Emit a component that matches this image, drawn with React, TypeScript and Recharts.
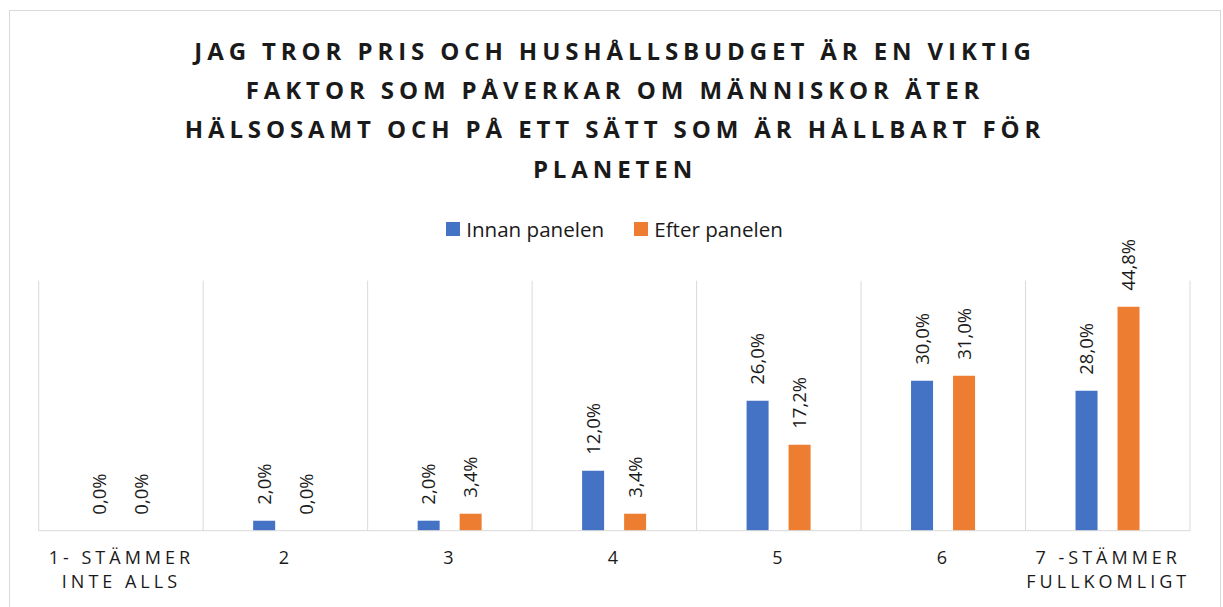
import React from 'react';
import { BarChart, Bar, XAxis, YAxis, CartesianGrid, Legend, LabelList } from 'recharts';

const titleLines = [
  'JAG TROR PRIS OCH HUSHÅLLSBUDGET ÄR EN VIKTIG',
  'FAKTOR SOM PÅVERKAR OM MÄNNISKOR ÄTER',
  'HÄLSOSAMT OCH PÅ ETT SÄTT SOM ÄR HÅLLBART FÖR',
  'PLANETEN',
];

const categories = ['1- STÄMMER\nINTE ALLS', '2', '3', '4', '5', '6', '7 -STÄMMER\nFULLKOMLIGT'];
const innanValues = [0, 2.0, 2.0, 12.0, 26.0, 30.0, 28.0];
const efterValues = [0, 0, 3.4, 3.4, 17.2, 31.0, 44.8];
const seriesNames = ['Innan panelen', 'Efter panelen'];
const seriesColors = ['#4472C4', '#ED7D31'];

const data = categories.map((c, i) => ({ cat: c, innan: innanValues[i], efter: efterValues[i] }));

const FONT = '"Open Sans", "Liberation Sans", sans-serif';
const TEXT = '#1a1a1a';

const fmt = (v: number) => v.toFixed(1).replace('.', ',') + '%';

const RotLabel = (props: any) => {
  const { x, y, width, value } = props;
  const cx = Number(x) + Number(width) / 2;
  const ty = Number(y) - 16;
  return (
    <text
      x={cx}
      y={ty}
      dy="0.36em"
      transform={`rotate(-90, ${cx}, ${ty})`}
      textAnchor="start"
      fontFamily={FONT}
      fontSize={18.5}
      fill={TEXT}
    >
      {fmt(Number(value))}
    </text>
  );
};

const Tick = (props: any) => {
  const { x, y, payload } = props;
  const lines = String(payload.value).split('\n');
  return (
    <text
      x={x}
      y={y}
      textAnchor="middle"
      fontFamily={FONT}
      fontSize={18}
      fill={TEXT}
      letterSpacing={4}
    >
      {lines.map((l, i) => (
        <tspan key={i} x={x + 0.5} dy={i === 0 ? 25 : 24.5}>
          {l}
        </tspan>
      ))}
    </text>
  );
};

const LegendContent = () => (
  <div style={{ display: 'flex', justifyContent: 'center', alignItems: 'center', fontFamily: FONT, fontSize: 20.6, color: TEXT, lineHeight: '28px', paddingLeft: 6 }}>
    {seriesNames.map((n, i) => (
      <div key={n} style={{ display: 'flex', alignItems: 'center', marginRight: i === 0 ? 30 : 0 }}>
        <span style={{ display: 'inline-block', width: 14, height: 14, background: seriesColors[i], marginRight: 6 }} />
        <span>{n}</span>
      </div>
    ))}
  </div>
);

export default function App() {
  return (
    <div style={{ position: 'absolute', left: 0, top: 0, width: 1223, height: 607, overflow: 'hidden', background: '#fff' }}>
      <div style={{ position: 'absolute', left: 9, top: 10, width: 1210, height: 640, border: '1px solid #D9D9D9' }} />
      <svg width={1223} height={200} style={{ position: 'absolute', left: 0, top: 0 }}>
        {titleLines.map((l, i) => (
          <text
            key={i}
            x={615}
            y={59.8 + i * 39.3}
            textAnchor="middle"
            fontFamily={FONT}
            fontWeight={700}
            fontSize={24}
            letterSpacing={4.9}
            fill={TEXT}
          >
            {l}
          </text>
        ))}
      </svg>
      <div style={{ position: 'absolute', left: 0, top: 0 }}>
        <BarChart
          width={1223}
          height={607}
          data={data}
          margin={{ top: 280.7, left: 38.7, right: 33, bottom: 46.3 }}
          barSize={22}
          barGap={20}
        >
          <CartesianGrid
            horizontal={false}
            stroke="#D9D9D9"
            verticalCoordinatesGenerator={({ offset }: any) =>
              Array.from({ length: categories.length + 1 }, (_, i) => offset.left + (i * offset.width) / categories.length)
            }
          />
          <XAxis dataKey="cat" height={30} axisLine={{ stroke: '#D9D9D9' }} tickLine={false} tick={<Tick />} interval={0} />
          <YAxis hide domain={[0, 50]} />
          <Legend
            layout="horizontal"
            verticalAlign="middle"
            align="center"
            content={<LegendContent />}
            wrapperStyle={{ top: 215, left: 0, width: 1223 }}
          />
          <Bar dataKey="innan" name={seriesNames[0]} fill={seriesColors[0]} minPointSize={0.01} isAnimationActive={false}>
            <LabelList dataKey="innan" content={<RotLabel />} />
          </Bar>
          <Bar dataKey="efter" name={seriesNames[1]} fill={seriesColors[1]} minPointSize={0.01} isAnimationActive={false}>
            <LabelList dataKey="efter" content={<RotLabel />} />
          </Bar>
        </BarChart>
      </div>
    </div>
  );
}
